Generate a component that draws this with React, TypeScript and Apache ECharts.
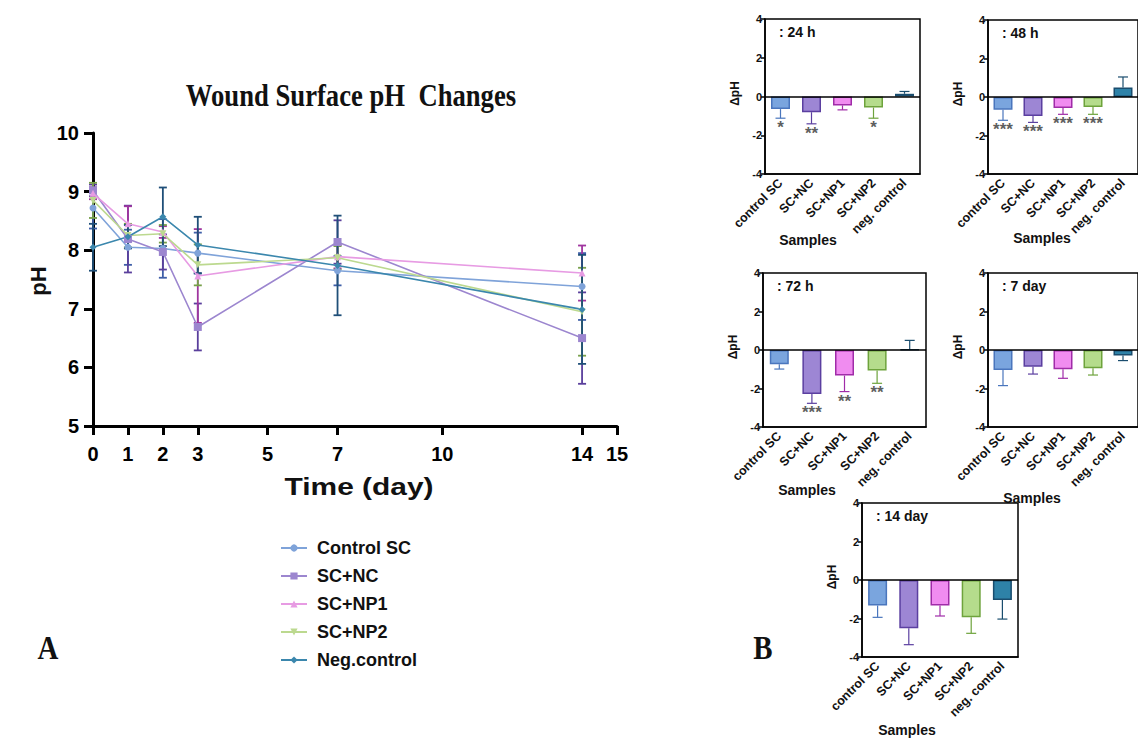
import React, { useEffect, useRef } from "react";
import * as echarts from "echarts";

// ---------- Panel A data ----------
const days = [0, 1, 2, 3, 7, 14];
const xTicks = [0, 1, 2, 3, 5, 7, 10, 14, 15];
const seriesNames = ["Control SC", "SC+NC", "SC+NP1", "SC+NP2", "Neg.control"];
const controlSC = [8.72, 8.05, 8.03, 7.95, 7.65, 7.38];
const controlSCErr = [0.35, 0.3, 0.5, 0.35, 0.25, 0.57];
const scNC = [9.02, 8.19, 7.97, 6.69, 8.14, 6.5];
const scNCErr = [0.1, 0.57, 0.3, 0.4, 0.37, 0.78];
const scNP1 = [8.97, 8.45, 8.31, 7.56, 7.89, 7.61];
const scNP1Err = [0.1, 0.3, 0.1, 0.8, 0.2, 0.47];
const scNP2 = [8.85, 8.25, 8.28, 7.75, 7.87, 6.95];
const scNP2Err = [0.3, 0.2, 0.15, 0.35, 0.2, 0.75];
const negControl = [8.05, 8.23, 8.57, 8.09, 7.74, 6.99];
const negControlErr = [0.4, 0.2, 0.5, 0.48, 0.85, 0.93];

// ---------- Panel B data ----------
const sampleNames = ["control SC", "SC+NC", "SC+NP1", "SC+NP2", "neg. control"];
const panelTitles = [": 24 h", ": 48 h", ": 72 h", ": 7 day", ": 14 day"];
const dpH24h = [-0.65, -0.81, -0.46, -0.57, 0.14];
const sd24h = [0.47, 0.6, 0.23, 0.55, 0.12];
const stars24h = ["*", "**", "", "*", ""];
const dpH48h = [-0.66, -0.99, -0.57, -0.52, 0.5];
const sd48h = [0.55, 0.33, 0.33, 0.38, 0.54];
const stars48h = ["***", "***", "***", "***", ""];
const dpH72h = [-0.74, -2.29, -1.33, -1.07, 0.02];
const sd72h = [0.25, 0.48, 0.83, 0.66, 0.48];
const stars72h = ["", "***", "**", "**", ""];
const dpH7d = [-1.04, -0.87, -1.0, -0.95, -0.29];
const sd7d = [0.81, 0.38, 0.47, 0.35, 0.26];
const stars7d = ["", "", "", "", ""];
const dpH14d = [-1.33, -2.51, -1.33, -1.94, -1.04];
const sd14d = [0.61, 0.85, 0.54, 0.83, 0.99];
const stars14d = ["", "", "", "", ""];

// ---------- styles ----------
const lineColors = ["#7fa3d9", "#9c86cf", "#e79be3", "#bcd98f", "#3b87ad"];
const errColors = ["#3f5fa8", "#5a3f9c", "#a0359f", "#77a04a", "#1f4f78"];
const lineSymbols = ["circle", "rect", "triangle", "triangle", "diamond"];
const barFill = ["#7aa5de", "#9d86d4", "#f08cf0", "#b5dc8c", "#2e82a8"];
const barBorder = ["#4a76bd", "#5b3fa0", "#a02ca8", "#6ea33c", "#1a4d6e"];
const SANS = 'Arial, "Liberation Sans", sans-serif';
const SERIF = '"Times New Roman", "Liberation Serif", serif';

const panels = [
  { left: 765, top: 19, width: 155, height: 155, samples: [808, 240] },
  { left: 988, top: 20, width: 155, height: 154, samples: [1042, 238] },
  { left: 763, top: 273, width: 163, height: 154, samples: [807, 490] },
  { left: 988, top: 273, width: 155, height: 154, samples: [1032, 498] },
  { left: 862, top: 503, width: 156, height: 154, samples: [907, 730] },
];

export default function App() {
  const ref = useRef<HTMLDivElement>(null);
  useEffect(() => {
    if (!ref.current) return;
    const chart = echarts.init(ref.current, null, { renderer: "svg" });

    const lineVals = [controlSC, scNC, scNP1, scNP2, negControl];
    const lineErrs = [controlSCErr, scNCErr, scNP1Err, scNP2Err, negControlErr];
    const barVals = [dpH24h, dpH48h, dpH72h, dpH7d, dpH14d];
    const barSds = [sd24h, sd48h, sd72h, sd7d, sd14d];
    const barStars = [stars24h, stars48h, stars72h, stars7d, stars14d];

    const grids: any[] = [{ left: 93, top: 133, width: 524, height: 293 }];
    const xAxes: any[] = [
      {
        type: "value", gridIndex: 0, min: 0, max: 15,
        axisLine: { lineStyle: { color: "#000", width: 3 } },
        axisTick: { show: true, length: 9, lineStyle: { color: "#000", width: 3 }, customValues: xTicks },
        axisLabel: { customValues: xTicks, color: "#000", fontSize: 20, fontWeight: "bold", fontFamily: SANS, margin: 18 },
        splitLine: { show: false },
      },
    ];
    const yAxes: any[] = [
      {
        type: "value", gridIndex: 0, min: 5, max: 10, interval: 1,
        axisLine: { show: true, lineStyle: { color: "#000", width: 3 } },
        axisTick: { show: true, length: 9, lineStyle: { color: "#000", width: 3 } },
        axisLabel: { color: "#000", fontSize: 20, fontWeight: "bold", fontFamily: SANS, margin: 14 },
        splitLine: { show: false },
      },
    ];
    const series: any[] = [];

    lineVals.forEach((vals, k) => {
      series.push({
        name: seriesNames[k], type: "line", xAxisIndex: 0, yAxisIndex: 0,
        data: days.map((d, i) => [d, vals[i]]),
        symbol: lineSymbols[k], symbolSize: k === 1 ? 8 : 7, symbolRotate: k === 3 ? 180 : 0,
        color: lineColors[k],
        lineStyle: { color: lineColors[k], width: 1.6 },
        itemStyle: { color: lineColors[k] },
        z: 3,
      });
      series.push({
        type: "custom", xAxisIndex: 0, yAxisIndex: 0,
        data: days.map((d, i) => [d, vals[i], lineErrs[k][i]]),
        renderItem: (params: any, api: any) => {
          const x = api.value(0), v = api.value(1), e = api.value(2);
          const top = api.coord([x, v + e]);
          const bot = api.coord([x, v - e]);
          const st = { stroke: errColors[k], lineWidth: 1.8 };
          return {
            type: "group",
            children: [
              { type: "line", shape: { x1: top[0], y1: top[1], x2: bot[0], y2: bot[1] }, style: st },
              { type: "line", shape: { x1: top[0] - 4, y1: top[1], x2: top[0] + 4, y2: top[1] }, style: st },
              { type: "line", shape: { x1: bot[0] - 4, y1: bot[1], x2: bot[0] + 4, y2: bot[1] }, style: st },
            ],
          };
        },
        z: 2,
      });
    });

    const graphics: any[] = [
      { type: "text", x: 351, y: 95, scaleX: 0.86, style: { text: "Wound Surface pH  Changes", x: 0, y: 0, textAlign: "center", textVerticalAlign: "middle", font: `bold 31px ${SERIF}`, fill: "#111" } },
      { type: "text", x: 359, y: 487, scaleX: 1.3, style: { text: "Time (day)", x: 0, y: 0, textAlign: "center", textVerticalAlign: "middle", font: `bold 23px ${SANS}`, fill: "#111" } },
      { type: "text", x: 38, y: 281, rotation: Math.PI / 2, style: { text: "pH", x: 0, y: 0, textAlign: "center", textVerticalAlign: "middle", font: `bold 22px ${SANS}`, fill: "#111" } },
      { type: "text", x: 48, y: 648, scaleX: 0.85, style: { text: "A", x: 0, y: 0, textAlign: "center", textVerticalAlign: "middle", font: `bold 34px ${SERIF}`, fill: "#111" } },
      { type: "text", x: 763, y: 648, scaleX: 0.85, style: { text: "B", x: 0, y: 0, textAlign: "center", textVerticalAlign: "middle", font: `bold 34px ${SERIF}`, fill: "#111" } },
    ];

    panels.forEach((p, idx) => {
      const gi = idx + 1;
      grids.push({ left: p.left, top: p.top, width: p.width, height: p.height, show: true, borderColor: "#000", borderWidth: 1.5, backgroundColor: "transparent" });
      xAxes.push({
        type: "category", gridIndex: gi, data: sampleNames,
        axisLine: { onZero: false, lineStyle: { color: "#000", width: 1.5 } },
        axisTick: { alignWithLabel: true, length: 5, lineStyle: { color: "#000", width: 1.5 } },
        axisLabel: { rotate: 45, interval: 0, color: "#111", fontSize: 12.5, fontWeight: "bold", fontFamily: SANS, margin: 7 },
        splitLine: { show: false },
      });
      yAxes.push({
        type: "value", gridIndex: gi, min: -4, max: 4, interval: 2,
        axisLine: { show: true, lineStyle: { color: "#000", width: 1.5 } },
        axisTick: { show: true, length: 4, lineStyle: { color: "#000", width: 1.5 } },
        axisLabel: { color: "#111", fontSize: 11, fontWeight: "bold", fontFamily: SANS, margin: 3 },
        splitLine: { show: false },
      });
      const vals = barVals[idx];
      const sds = barSds[idx];
      series.push({
        type: "bar", xAxisIndex: gi, yAxisIndex: gi, barWidth: 19,
        data: vals.map((v, j) => ({ value: v, itemStyle: { color: barFill[j], borderColor: barBorder[j], borderWidth: 1.5 } })),
        markLine: {
          silent: true, symbol: ["none", "none"], label: { show: false },
          lineStyle: { color: "#000", width: 1.5, type: "solid" },
          data: [{ yAxis: 0 }],
        },
        z: 2,
      });
      series.push({
        type: "custom", xAxisIndex: gi, yAxisIndex: gi,
        data: vals.map((v, j) => [j, v, v >= 0 ? v + sds[j] : v - sds[j]]),
        renderItem: (params: any, api: any) => {
          const x = api.value(0), v = api.value(1), e = api.value(2);
          const a = api.coord([x, v]);
          const b = api.coord([x, e]);
          const st = { stroke: barBorder[x], lineWidth: 1.2 };
          return {
            type: "group",
            children: [
              { type: "line", shape: { x1: a[0], y1: a[1], x2: b[0], y2: b[1] }, style: st },
              { type: "line", shape: { x1: b[0] - 5, y1: b[1], x2: b[0] + 5, y2: b[1] }, style: st },
            ],
          };
        },
        z: 3,
      });
      const starData = vals
        .map((v, j) => [j, v >= 0 ? v + sds[j] : v - sds[j], barStars[idx][j]])
        .filter((d) => d[2] !== "");
      if (starData.length) {
        series.push({
          type: "scatter", xAxisIndex: gi, yAxisIndex: gi, symbolSize: 0, data: starData,
          label: { show: true, position: "bottom", distance: 1, formatter: (pp: any) => pp.data[2], color: "#333", fontSize: 17, fontWeight: "bold", fontFamily: SANS },
          z: 4,
        });
      }
      graphics.push({ type: "text", x: p.left + 14, y: p.top + 13, style: { text: panelTitles[idx], x: 0, y: 0, textAlign: "left", textVerticalAlign: "middle", font: `bold 14px ${SANS}`, fill: "#111" } });
      graphics.push({ type: "text", x: p.left - 30, y: p.top + p.height / 2 - 3, rotation: Math.PI / 2, style: { text: "ΔpH", x: 0, y: 0, textAlign: "center", textVerticalAlign: "middle", font: `bold 12px ${SANS}`, fill: "#111" } });
      graphics.push({ type: "text", x: p.samples[0], y: p.samples[1], style: { text: "Samples", x: 0, y: 0, textAlign: "center", textVerticalAlign: "middle", font: `bold 14px ${SANS}`, fill: "#111" } });
    });

    chart.setOption({
      animation: false,
      backgroundColor: "#fff",
      grid: grids,
      xAxis: xAxes,
      yAxis: yAxes,
      series,
      legend: {
        data: seriesNames, orient: "vertical", left: 275, top: 534,
        itemWidth: 26, itemHeight: 9, itemGap: 10,
        textStyle: { color: "#111", fontSize: 18, fontWeight: "bold", fontFamily: SANS, padding: [0, 0, 0, 5] },
      },
      graphic: graphics,
    });
    return () => chart.dispose();
  }, []);
  return <div ref={ref} style={{ position: "fixed", left: 0, top: 0, width: 1138, height: 739 }} />;
}
